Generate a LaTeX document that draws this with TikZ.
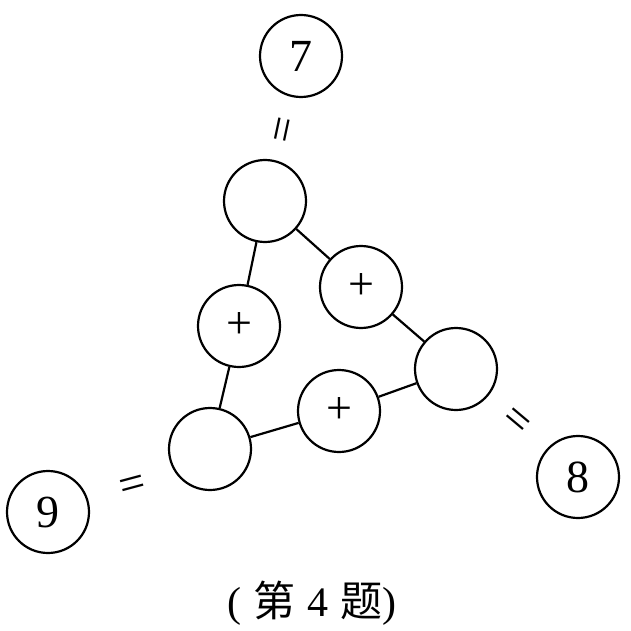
\documentclass[tikz,border=0pt]{standalone}
\usepackage{fontspec}
\setmainfont{Liberation Serif}
\newfontfamily\cjk{Noto Sans CJK SC}
\begin{document}
\begin{tikzpicture}[x=1pt,y=-1pt,
  ball/.style={circle,draw,line width=2.2pt,minimum size=82pt,inner sep=0pt,
    font=\fontsize{46}{50}\selectfont},
  plusball/.style={ball,font=\fontsize{46}{50}\selectfont},
  eqsign/.style={inner sep=0pt,font=\fontsize{46}{50}\selectfont},
  link/.style={line width=2.2pt}]
\useasboundingbox (0,0) rectangle (630,631);
\node[ball] (n7) at (301,56) {7};
\node[ball] (n9) at (48,512) {9};
\node[ball] (n8) at (578,477) {8};
\node[ball] (t) at (265,201) {};
\node[ball] (e) at (456,369) {};
\node[ball] (bl) at (210,449) {};
\node[plusball] (r) at (361,287) {+};
\node[plusball] (l) at (239,326) {+};
\node[plusball] (b) at (339,411) {+};
\node[eqsign,rotate=78] (q7) at (287,131) {=};
\node[eqsign,rotate=15] (q9) at (133,488) {=};
\node[eqsign,rotate=-40] (q8) at (515,423) {=};
\draw[link] (t) -- (r);
\draw[link] (r) -- (e);
\draw[link] (e) -- (b);
\draw[link] (b) -- (bl);
\draw[link] (bl) -- (l);
\draw[link] (l) -- (t);
\node[font=\fontsize{42}{46}\selectfont] (cap) at (312,603) {(\hspace{12pt}{\cjk 第}\hspace{12pt}4\hspace{12pt}{\cjk 题})};
\end{tikzpicture}
\end{document}
